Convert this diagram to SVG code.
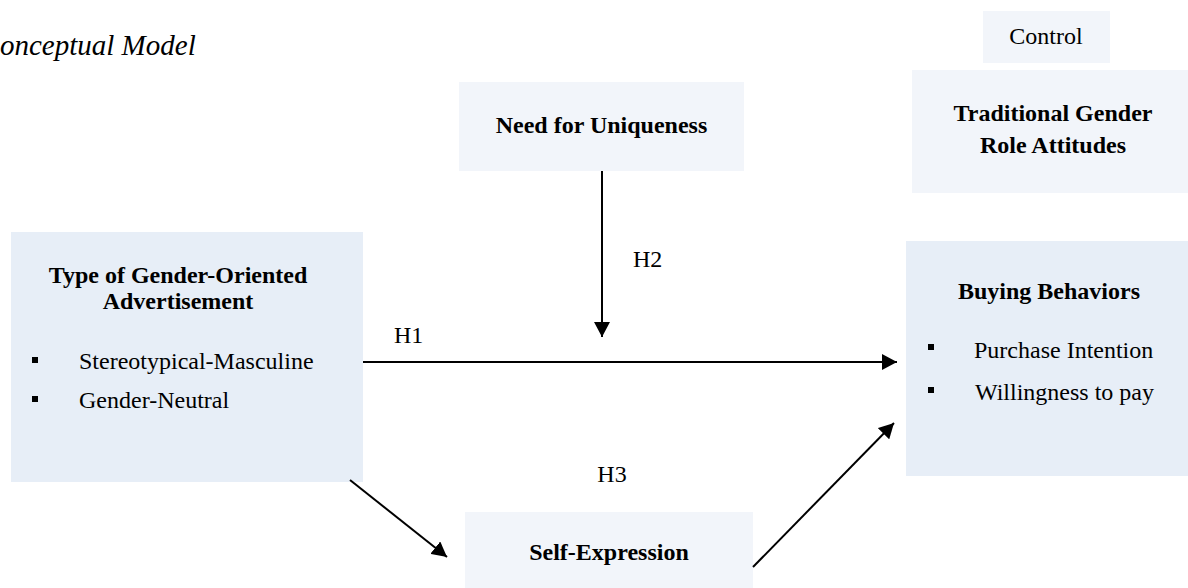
<svg xmlns="http://www.w3.org/2000/svg" width="1188" height="588" viewBox="0 0 1188 588">
<defs>
<style>
.t{font-family:"Liberation Serif","Times New Roman",serif;font-size:24px;fill:#000}
.b{font-weight:bold}
.box1{fill:#e7eef7}
.box2{fill:#f2f5fa}
.ln{stroke:#000;stroke-width:2;fill:none;marker-end:url(#ah)}
.bul{fill:#000}
</style>
<marker id="ah" markerUnits="userSpaceOnUse" markerWidth="16" markerHeight="16" refX="15" refY="8" orient="auto">
<path d="M0,0 L15,8 L0,16 z" fill="#000"/>
</marker>
</defs>
<rect width="1188" height="588" fill="#fff"/>
<text class="t" x="0" y="55" style="font-style:italic;font-size:29px">onceptual Model</text>

<g id="control">
<rect class="box2" x="983" y="11" width="127" height="52"/>
<text class="t" x="1046" y="44" text-anchor="middle">Control</text>
</g>
<g id="traditional">
<rect class="box2" x="912" y="70" width="276" height="123"/>
<text class="t b" x="1053" y="121" text-anchor="middle">Traditional Gender</text>
<text class="t b" x="1053" y="153" text-anchor="middle">Role Attitudes</text>
</g>
<g id="uniqueness">
<rect class="box2" x="459" y="82" width="285" height="89"/>
<text class="t b" x="601.5" y="133" text-anchor="middle">Need for Uniqueness</text>
</g>
<g id="advertisement">
<rect class="box1" x="11" y="232" width="352" height="250"/>
<text class="t b" x="178" y="283" text-anchor="middle">Type of Gender-Oriented</text>
<text class="t b" x="178" y="309" text-anchor="middle">Advertisement</text>
<rect class="bul" x="32" y="357" width="6" height="6"/>
<text class="t" x="79" y="369">Stereotypical-Masculine</text>
<rect class="bul" x="32" y="396" width="6" height="6"/>
<text class="t" x="79" y="408">Gender-Neutral</text>
</g>
<g id="buying">
<rect class="box1" x="906" y="241" width="282" height="235"/>
<text class="t b" x="1049" y="299" text-anchor="middle">Buying Behaviors</text>
<rect class="bul" x="928" y="344" width="6" height="6"/>
<text class="t" x="974" y="358">Purchase Intention</text>
<rect class="bul" x="928" y="387" width="6" height="6"/>
<text class="t" x="975" y="400">Willingness to pay</text>
</g>
<g id="selfexpression">
<rect class="box2" x="465" y="512" width="288" height="76"/>
<text class="t b" x="609" y="560" text-anchor="middle">Self-Expression</text>
</g>

<g id="connectors">
<line class="ln" x1="363" y1="362" x2="897" y2="362"/>
<line class="ln" x1="602" y1="171" x2="602" y2="337"/>
<line class="ln" x1="350" y1="480" x2="447" y2="557"/>
<line class="ln" x1="753" y1="567" x2="894" y2="423"/>
</g>
<g id="labels">
<text class="t" x="394" y="343">H1</text>
<text class="t" x="633" y="267">H2</text>
<text class="t" x="612" y="482" text-anchor="middle">H3</text>
</g>
</svg>
